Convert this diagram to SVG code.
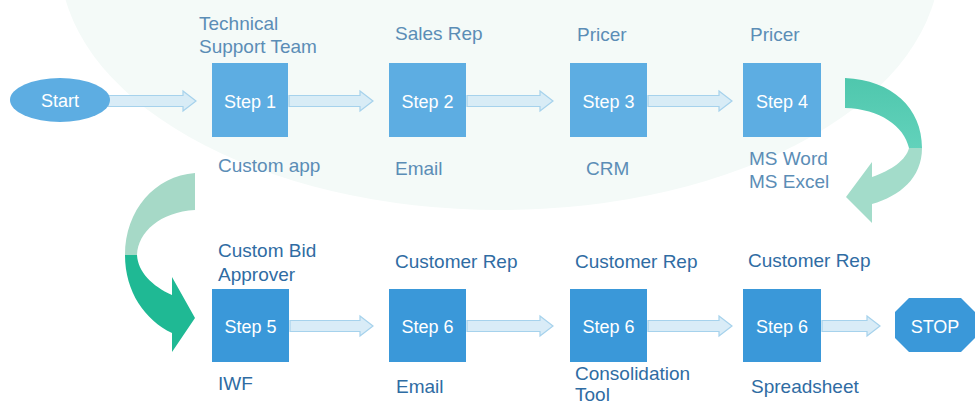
<svg xmlns="http://www.w3.org/2000/svg" width="977" height="405" viewBox="0 0 977 405">
<style>
.lbl{font-family:"Liberation Sans",Arial,sans-serif;font-size:19px}
.top{fill:#5b8db6}
.bot{fill:#2f6ca3}
.step{font-family:"Liberation Sans",Arial,sans-serif;font-size:18px;fill:#ffffff;text-anchor:middle}
.box1{fill:#5dade2}
.box2{fill:#3a98d9}
.arr{fill:#d2e9f6;fill-opacity:0.85;stroke:#a6d2ec;stroke-width:1.2}
</style>
<defs>
<linearGradient id="gR" x1="0" y1="0" x2="0" y2="1">
<stop offset="0" stop-color="#4fc7ad"/>
<stop offset="1" stop-color="#62d2bb"/>
</linearGradient>
</defs>
<rect width="977" height="405" fill="#ffffff"/>
<ellipse cx="500" cy="-40" rx="440" ry="250" fill="#f4faf8"/>
<g id="connectors">
<path class="arr" d="M108,95.5 L183,95.5 L183,91 L196,101 L183,111 L183,106.5 L108,106.5 Z"/>
<path class="arr" d="M289,95.5 L360,95.5 L360,91 L373,101 L360,111 L360,106.5 L289,106.5 Z"/>
<path class="arr" d="M467,95.5 L540,95.5 L540,91 L553,101 L540,111 L540,106.5 L467,106.5 Z"/>
<path class="arr" d="M648,95.5 L719,95.5 L719,91 L732,101 L719,111 L719,106.5 L648,106.5 Z"/>
<path class="arr" d="M290,320.5 L360,320.5 L360,316 L373,326 L360,336 L360,331.5 L290,331.5 Z"/>
<path class="arr" d="M467,320.5 L540,320.5 L540,316 L553,326 L540,336 L540,331.5 L467,331.5 Z"/>
<path class="arr" d="M648,320.5 L719,320.5 L719,316 L732,326 L719,336 L719,331.5 L648,331.5 Z"/>
<path class="arr" d="M822,320.5 L867,320.5 L867,316 L880,326 L867,336 L867,331.5 L822,331.5 Z"/>
<path fill="url(#gR)" d="M845,78 C892,80 922,108 922,148 L909,148 C904,126 880,109 845,108 Z"/>
<path fill="#a3dcca" d="M922,148 C922,178 900,196 872,204 L872,223 L846,197 L872,162 L872,177 C892,170 906,160 909,148 Z"/>
<path fill="#a6d9c7" d="M195,173 L195,210 C160,212 138,232 137,255 L125,255 C125,210 155,176 195,173 Z"/>
<path fill="#1fb994" d="M125,255 C125,292 145,320 172,333 L172,352 L195,318 L172,277 L172,295 C152,286 138,272 137,255 Z"/>
</g>
<g id="start">
<ellipse cx="60" cy="100" rx="50" ry="22" class="box1"/>
<text x="60" y="107" class="step">Start</text>
</g>
<g id="step1">
<rect x="212" y="63" width="76" height="74" class="box1"/>
<text x="250" y="108" class="step">Step 1</text>
<text x="199" y="30" class="lbl top">Technical</text>
<text x="199" y="53" class="lbl top">Support Team</text>
<text x="218" y="172" class="lbl top">Custom app</text>
</g>
<g id="step2">
<rect x="389" y="63" width="77" height="74" class="box1"/>
<text x="427.5" y="108" class="step">Step 2</text>
<text x="395" y="40" class="lbl top">Sales Rep</text>
<text x="395" y="175" class="lbl top">Email</text>
</g>
<g id="step3">
<rect x="570" y="63" width="77" height="74" class="box1"/>
<text x="608.5" y="108" class="step">Step 3</text>
<text x="577" y="41" class="lbl top">Pricer</text>
<text x="586" y="175" class="lbl top">CRM</text>
</g>
<g id="step4">
<rect x="743" y="63" width="78" height="74" class="box1"/>
<text x="782" y="108" class="step">Step 4</text>
<text x="750" y="41" class="lbl top">Pricer</text>
<text x="749" y="165" class="lbl top">MS Word</text>
<text x="749" y="188" class="lbl top">MS Excel</text>
</g>
<g id="step5">
<rect x="212" y="289" width="77" height="73" class="box2"/>
<text x="250.5" y="333" class="step">Step 5</text>
<text x="218" y="257" class="lbl bot">Custom Bid</text>
<text x="218" y="281" class="lbl bot">Approver</text>
<text x="218" y="390" class="lbl bot">IWF</text>
</g>
<g id="step6a">
<rect x="389" y="289" width="77" height="73" class="box2"/>
<text x="427.5" y="333" class="step">Step 6</text>
<text x="395" y="268" class="lbl bot">Customer Rep</text>
<text x="396" y="393" class="lbl bot">Email</text>
</g>
<g id="step6b">
<rect x="570" y="289" width="77" height="73" class="box2"/>
<text x="608.5" y="333" class="step">Step 6</text>
<text x="575" y="268" class="lbl bot">Customer Rep</text>
<text x="575" y="380" class="lbl bot">Consolidation</text>
<text x="575" y="401" class="lbl bot">Tool</text>
</g>
<g id="step6c">
<rect x="743" y="289" width="78" height="73" class="box2"/>
<text x="782" y="333" class="step">Step 6</text>
<text x="748" y="267" class="lbl bot">Customer Rep</text>
<text x="751" y="393" class="lbl bot">Spreadsheet</text>
</g>
<g id="stop">
<path class="box2" d="M909,298 L961,298 L975,312 L975,338 L961,352 L909,352 L895,338 L895,312 Z"/>
<text x="935" y="333" class="step">STOP</text>
</g>
</svg>
